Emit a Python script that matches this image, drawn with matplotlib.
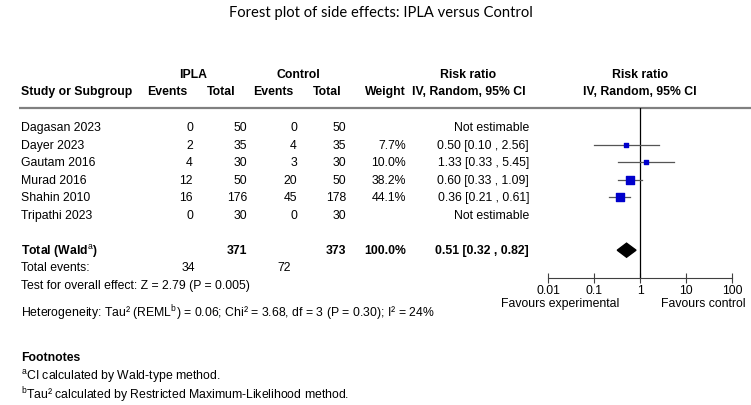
import matplotlib
matplotlib.use('Agg')
import matplotlib.pyplot as plt

plt.rcParams['font.family'] = ['Liberation Sans', 'DejaVu Sans']
plt.rcParams['mathtext.fontset'] = 'custom'
plt.rcParams['mathtext.rm'] = 'Liberation Sans'
plt.rcParams['mathtext.it'] = 'Liberation Sans'
plt.rcParams['mathtext.bf'] = 'Liberation Sans:bold'

# data
studies = ['Dagasan 2023', 'Dayer 2023', 'Gautam 2016', 'Murad 2016', 'Shahin 2010', 'Tripathi 2023']
ipla_events = [0, 2, 4, 12, 16, 0]
ipla_total = [50, 35, 30, 50, 176, 30]
ctrl_events = [0, 4, 3, 20, 45, 0]
ctrl_total = [50, 35, 30, 50, 178, 30]
weights = [None, 7.7, 10.0, 38.2, 44.1, None]
rr = [None, 0.50, 1.33, 0.60, 0.36, None]
rr_lo = [None, 0.10, 0.33, 0.33, 0.21, None]
rr_hi = [None, 2.56, 5.45, 1.09, 0.61, None]

pooled_rr, pooled_lo, pooled_hi = 0.51, 0.32, 0.82
total_ipla, total_ctrl = 371, 373
events_ipla, events_ctrl = 34, 72
ticks = [0.01, 0.1, 1, 10, 100]
tick_labels = ['0.01', '0.1', '1', '10', '100']

W, H = 751, 406
fig = plt.figure(figsize=(W / 100, H / 100), dpi=100)

# background axes in pixel units for the table text
bg = fig.add_axes([0, 0, 1, 1])
bg.set_xlim(0, W)
bg.set_ylim(H, 0)
bg.axis('off')

fs = 8.8
row0, step = 128, 17.6


def row_y(i):
    return row0 + step * i


bg.text(381, 13, 'Forest plot of side effects: IPLA versus Control',
        ha='center', va='center', fontsize=10.6, family=['Lato', 'DejaVu Sans'])

# headers
hdr = dict(fontsize=fs, fontweight='bold', va='center')
bg.text(193, 75, 'IPLA', ha='center', **hdr)
bg.text(298, 75, 'Control', ha='center', **hdr)
bg.text(468, 75, 'Risk ratio', ha='center', **hdr)
bg.text(640, 75, 'Risk ratio', ha='center', **hdr)
bg.text(21, 92, 'Study or Subgroup', ha='left', **hdr)
bg.text(147, 92, 'Events', ha='left', **hdr)
bg.text(207, 92, 'Total', ha='left', **hdr)
bg.text(253, 92, 'Events', ha='left', **hdr)
bg.text(313, 92, 'Total', ha='left', **hdr)
bg.text(406, 92, 'Weight', ha='right', **hdr)
bg.text(469, 92, 'IV, Random, 95% CI', ha='center', **hdr)
bg.text(640, 92, 'IV, Random, 95% CI', ha='center', **hdr)
bg.plot([19, W], [109, 109], color='#808080', lw=1.6, solid_capstyle='butt')

cols = [193, 247, 297, 346, 406, 529]
for i, name in enumerate(studies):
    y = row_y(i)
    bg.text(21, y, name, ha='left', va='center', fontsize=fs)
    vals = [ipla_events[i], ipla_total[i], ctrl_events[i], ctrl_total[i]]
    for x, v in zip(cols[:4], vals):
        bg.text(x, y, str(v), ha='right', va='center', fontsize=fs)
    if weights[i] is None:
        bg.text(cols[5], y, 'Not estimable', ha='right', va='center', fontsize=fs)
    else:
        bg.text(cols[4], y, f'{weights[i]:.1f}%', ha='right', va='center', fontsize=fs)
        bg.text(cols[5], y, f'{rr[i]:.2f} [{rr_lo[i]:.2f} , {rr_hi[i]:.2f}]',
                ha='right', va='center', fontsize=fs)

yt = row_y(7)
bold = dict(fontsize=fs, fontweight='bold', va='center')
bg.text(21, yt, r'Total (Wald$^{\mathrm{a}}$)', ha='left', **bold)
bg.text(cols[1], yt, str(total_ipla), ha='right', **bold)
bg.text(cols[3], yt, str(total_ctrl), ha='right', **bold)
bg.text(cols[4], yt, f'{sum(w for w in weights if w):.1f}%', ha='right', **bold)
bg.text(cols[5], yt, f'{pooled_rr:.2f} [{pooled_lo:.2f} , {pooled_hi:.2f}]', ha='right', **bold)

bg.text(21, 268.5, 'Total events:', ha='left', va='center', fontsize=fs)
bg.text(195, 268.5, str(events_ipla), ha='right', va='center', fontsize=fs)
bg.text(291, 268.5, str(events_ctrl), ha='right', va='center', fontsize=fs)
bg.text(21, 286, 'Test for overall effect: Z = 2.79 (P = 0.005)', ha='left', va='center', fontsize=fs)
bg.text(21, 313, r'Heterogeneity: Tau² (REML$^{\mathrm{b}}$) = 0.06; Chi² = 3.68, df = 3 (P = 0.30); I² = 24%',
        ha='left', va='center', fontsize=fs)
bg.text(21, 358, 'Footnotes', ha='left', va='center', fontsize=fs, fontweight='bold')
bg.text(21, 377, r'$^{\mathrm{a}}$CI calculated by Wald-type method.', ha='left', va='center', fontsize=fs)
bg.text(21, 395, r'$^{\mathrm{b}}$Tau² calculated by Restricted Maximum-Likelihood method.',
        ha='left', va='center', fontsize=fs)

bg.text(560, 304, 'Favours experimental', ha='center', va='center', fontsize=fs)
bg.text(703, 304, 'Favours control', ha='center', va='center', fontsize=fs)

# forest axes: log scale from 0.01 to 100
x0, x1, ytop, ybot = 548, 732, 109, 279
ax = fig.add_axes([x0 / W, 1 - ybot / H, (x1 - x0) / W, (ybot - ytop) / H])
ax.set_xscale('log')
ax.set_xlim(0.01, 100)
ax.set_ylim((ybot - row0) / step, (ytop - row0) / step)
ax.patch.set_alpha(0)
for s in ['top', 'left', 'right']:
    ax.spines[s].set_visible(False)
ax.spines['bottom'].set_color('#404040')
ax.spines['bottom'].set_linewidth(0.8)
ax.set_xticks(ticks)
ax.set_xticklabels(tick_labels)
ax.minorticks_off()
ax.tick_params(axis='x', direction='inout', length=7, width=0.8, color='#404040',
               pad=1, labelsize=fs)
ax.set_yticks([])
ax.axvline(1, color='black', lw=0.9)

for i in range(len(studies)):
    if rr[i] is None:
        continue
    ax.plot([rr_lo[i], rr_hi[i]], [i, i], color='#555555', lw=0.9)
    ax.scatter([rr[i]], [i], marker='s', s=weights[i] * 0.85, color='#0000cc', zorder=3)

ax.fill([pooled_lo, pooled_rr, pooled_hi, pooled_rr], [7, 7 - 0.4, 7, 7 + 0.4],
        color='black', zorder=3)

fig.savefig('out.png', dpi=100)
